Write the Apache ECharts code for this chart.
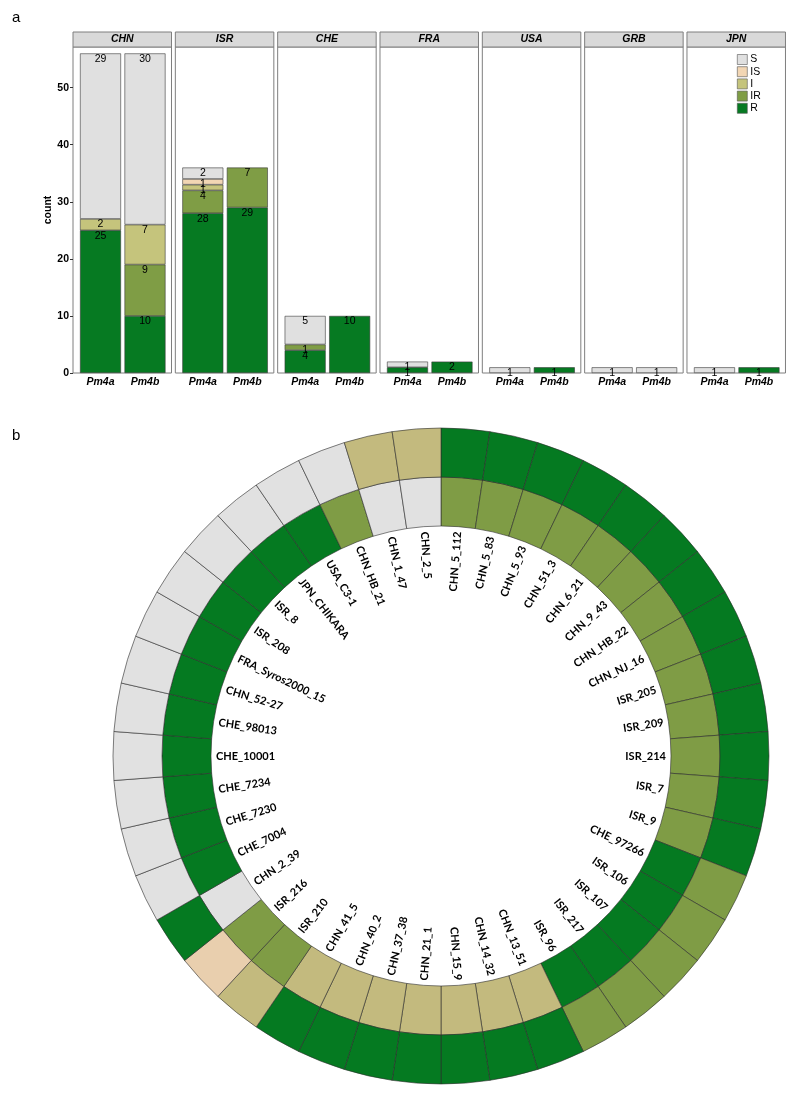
<!DOCTYPE html>
<html><head><meta charset="utf-8">
<script src="https://cdn.jsdelivr.net/npm/echarts@6/dist/echarts.min.js"></script>
<style>html,body{margin:0;padding:0;background:#fff}#c{width:800px;height:1101px}</style>
</head><body><div id="c"></div>
<script>
// ---------- Panel a data ----------
const countries = ['CHN','ISR','CHE','FRA','USA','GRB','JPN'];
const genes = ['Pm4a','Pm4b'];
const classes = ['R','IR','I','IS','S'];          // stacking order (bottom -> top)
const legendOrder = ['S','IS','I','IR','R'];
const countR  = [[25,10],[28,29],[4,10],[1,2],[0,1],[0,0],[0,1]];
const countIR = [[0,9],[4,7],[1,0],[0,0],[0,0],[0,0],[0,0]];
const countI  = [[2,7],[1,0],[0,0],[0,0],[0,0],[0,0],[0,0]];
const countIS = [[0,0],[1,0],[0,0],[0,0],[0,0],[0,0],[0,0]];
const countS  = [[29,30],[2,0],[5,0],[1,0],[1,0],[1,1],[1,0]];

// ---------- Panel b data ----------
const samples = ['CHN_5_112','CHN_5_83','CHN_5_93','CHN_51_3','CHN_6_21','CHN_9_43','CHN_HB_22','CHN_NJ_16',
  'ISR_205','ISR_209','ISR_214','ISR_7','ISR_9','CHE_97266','ISR_106','ISR_107','ISR_217','ISR_96',
  'CHN_13_51','CHN_14_32','CHN_15_9','CHN_21_1','CHN_37_38','CHN_40_2','CHN_41_5','ISR_210','ISR_216',
  'CHN_2_39','CHE_7004','CHE_7230','CHE_7234','CHE_10001','CHE_98013','CHN_52-27','FRA_Syros2000_15',
  'ISR_208','ISR_8','JPN_CHIKARA','USA_C3-1','CHN_HB_21','CHN_1_47','CHN_2_5'];
// outer ring
const pm4aClass = ['R','R','R','R','R','R','R','R','R','R','R','R','R','IR','IR','IR','IR','IR',
  'R','R','R','R','R','R','R','I','IS','R','S','S','S','S','S','S','S','S','S','S','S','S','I','I'];
// inner ring
const pm4bClass = ['IR','IR','IR','IR','IR','IR','IR','IR','IR','IR','IR','IR','IR','R','R','R','R','R',
  'I','I','I','I','I','I','I','IR','IR','S','R','R','R','R','R','R','R','R','R','R','R','IR','S','S'];

// ---------- styles ----------
const barColors  = {S:'#E0E0E0', IS:'#F2D6B4', I:'#C5C47C', IR:'#7F9D45', R:'#067A22'};
const ringColors = {S:'#E1E1E1', IS:'#E9CFAE', I:'#C3BA7E', IR:'#7F9C45', R:'#057A21'};
const FONT = 'Liberation Sans, Arial, sans-serif';
const counts = {R:countR, IR:countIR, I:countI, IS:countIS, S:countS};

const PANEL_LEFT = 73, PANEL_STEP = 102.33, PANEL_W = 98.5, PANEL_TOP = 47, PANEL_H = 326, STRIP_H = 15;
const GRID_INSET = 5.25, GRID_W = 89;
const Y_MAX = 57.12;
const CX = 441, CY = 756, R_IN = 230, RING_W = 49, R_OUT = 328, LABEL_R = 225;

const grids = [], xAxes = [], yAxes = [], series = [], graphics = [];

countries.forEach((c, ci) => {
  const left = PANEL_LEFT + ci * PANEL_STEP;
  graphics.push({type: 'rect', z: -10, shape: {x: left, y: PANEL_TOP, width: PANEL_W, height: PANEL_H},
    style: {fill: '#fff', stroke: '#7f7f7f', lineWidth: 1}});
  grids.push({left: left + GRID_INSET, top: PANEL_TOP, width: GRID_W, height: PANEL_H, show: false});
  xAxes.push({gridIndex: ci, type: 'category', data: genes,
    splitLine: {show: false}, axisLine: {show: false}, axisTick: {show: false},
    axisLabel: {fontWeight: 'bold', fontStyle: 'italic', fontSize: 10.5, color: '#000', margin: 4, fontFamily: FONT}});
  yAxes.push({gridIndex: ci, type: 'value', min: 0, max: Y_MAX, interval: 10, offset: GRID_INSET,
    splitLine: {show: false}, axisLine: {show: false},
    axisTick: {show: ci === 0, length: 3, lineStyle: {color: '#333'}},
    axisLabel: {show: ci === 0, showMaxLabel: false, fontWeight: 'bold', fontSize: 10.5, color: '#000', margin: 4, fontFamily: FONT},
    name: ci === 0 ? 'count' : '', nameLocation: 'middle', nameGap: 10,
    nameTextStyle: {fontWeight: 'bold', fontSize: 10.5, color: '#000', fontFamily: FONT}});
  classes.forEach(k => {
    series.push({type: 'bar', name: k, xAxisIndex: ci, yAxisIndex: ci, stack: 'st' + ci, barWidth: 41,
      data: genes.map((g, gi) => counts[k][ci][gi] || null),
      itemStyle: {color: barColors[k], borderColor: '#3a3a3a', borderWidth: 0.6},
      label: {show: true, position: 'insideTop', distance: 0, fontSize: 10.5, color: '#000', fontFamily: FONT,
        formatter: p => (p.value ? String(p.value) : '')}});
  });
  graphics.push({type: 'rect', shape: {x: left, y: PANEL_TOP - STRIP_H, width: PANEL_W, height: STRIP_H},
    style: {fill: '#D9D9D9', stroke: '#7f7f7f', lineWidth: 1}});
  graphics.push({type: 'text', x: left + PANEL_W / 2, y: PANEL_TOP - STRIP_H / 2,
    style: {text: c, align: 'center', verticalAlign: 'middle', textAlign: 'center', textVerticalAlign: 'middle',
      font: 'italic bold 10.5px ' + FONT, fill: '#000'}});
});

graphics.push({type: 'text', x: 12, y: 18, style: {text: 'a', verticalAlign: 'middle', textVerticalAlign: 'middle', font: '15px ' + FONT, fill: '#000'}});
graphics.push({type: 'text', x: 12, y: 436, style: {text: 'b', verticalAlign: 'middle', textVerticalAlign: 'middle', font: '15px ' + FONT, fill: '#000'}});

// ---------- Panel b series ----------
const ringBorder = {borderColor: '#2b2b2b', borderWidth: 0.6};
series.push({type: 'bar', coordinateSystem: 'polar', stack: 'ring', barCategoryGap: '0%', silent: true,
  data: samples.map(() => R_IN), itemStyle: {color: 'rgba(0,0,0,0)', borderWidth: 0}});
series.push({type: 'bar', coordinateSystem: 'polar', stack: 'ring', barCategoryGap: '0%', silent: true,
  data: pm4bClass.map(k => ({value: RING_W, itemStyle: {color: ringColors[k]}})), itemStyle: ringBorder});
series.push({type: 'bar', coordinateSystem: 'polar', stack: 'ring', barCategoryGap: '0%', silent: true,
  data: pm4aClass.map(k => ({value: RING_W, itemStyle: {color: ringColors[k]}})), itemStyle: ringBorder});
series.push({type: 'custom', coordinateSystem: 'polar', z: 10, silent: true,
  data: samples.map((s, i) => [LABEL_R, i]),
  renderItem: (params, api) => {
    const p = api.coord([api.value(0), api.value(1)]);
    const c0 = api.coord([0, api.value(1)]);
    const dx = p[0] - c0[0], dy = p[1] - c0[1];
    let th = Math.atan2(dx, -dy) * 180 / Math.PI; if (th < 0) th += 360;
    const right = th < 180;
    const rot = (right ? 90 - th : 270 - th) * Math.PI / 180;
    const al = right ? 'right' : 'left';
    return {type: 'text', x: p[0], y: p[1], rotation: rot,
      style: {text: samples[params.dataIndex], x: 0, y: 0, align: al, textAlign: al,
        verticalAlign: 'middle', textVerticalAlign: 'middle',
        font: 'bold 11px Lato, sans-serif', fill: '#000'}};
  }});

const chart = echarts.init(document.getElementById('c'), null, {renderer: 'canvas'});
chart.setOption({
  animation: false,
  backgroundColor: '#fff',
  grid: grids, xAxis: xAxes, yAxis: yAxes,
  polar: {center: [CX, CY], radius: [0, R_OUT]},
  angleAxis: {type: 'category', data: samples, startAngle: 90, clockwise: true, boundaryGap: true,
    axisLine: {show: false}, axisTick: {show: false}, axisLabel: {show: false}, splitLine: {show: false}},
  radiusAxis: {type: 'value', min: 0, max: R_OUT,
    axisLine: {show: false}, axisTick: {show: false}, axisLabel: {show: false}, splitLine: {show: false}},
  legend: {data: legendOrder, orient: 'vertical', left: 737, top: 54, itemWidth: 10, itemHeight: 10, itemGap: 1.2,
    padding: 0, selectedMode: false, icon: 'rect',
    itemStyle: {borderColor: '#555', borderWidth: 0.6},
    textStyle: {fontSize: 10.5, color: '#000', fontFamily: FONT, lineHeight: 10, padding: [0, 0, 0, -2]}},
  graphic: graphics,
  series: series
});
</script></body></html>
